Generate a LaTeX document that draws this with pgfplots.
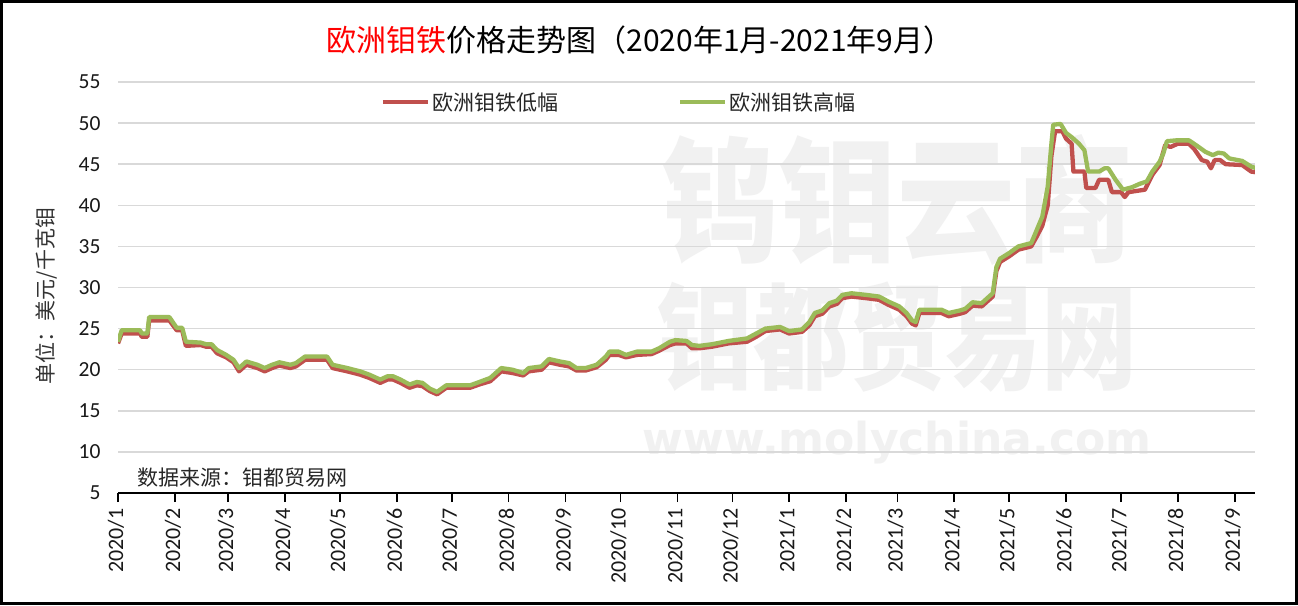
\documentclass[border=0pt]{standalone}
\usepackage{pgfplots}
\pgfplotsset{compat=1.18}
\usepackage{pgfplotstable}
\usepackage{fontspec}
\setmainfont{Carlito}
\newfontfamily\cjk{Noto Sans CJK SC}
\newfontfamily\wmfont{DejaVu Sans}
\definecolor{lowred}{RGB}{192,80,77}
\definecolor{highgreen}{RGB}{155,187,89}
\definecolor{gridgray}{RGB}{217,217,217}
\definecolor{wmgray}{RGB}{241,241,241}

\pgfplotstableread{
d v
0 23.2
2 24.4
12 24.4
13 24.0
16 24.0
17 26.0
28 26.0
32 24.8
35 24.8
37 22.9
45 23.0
48 22.8
51 22.8
54 22.0
59 21.5
63 20.9
66 19.8
70 20.6
76 20.2
80 19.8
84 20.2
88 20.5
94 20.2
97 20.4
102 21.2
114 21.2
117 20.2
125 19.8
132 19.4
137 19.0
143 18.4
147 18.8
150 18.8
154 18.4
159 17.8
163 18.1
166 18.0
170 17.4
174 17.0
179 17.8
192 17.8
197 18.2
203 18.6
206 19.2
209 19.8
215 19.6
221 19.3
224 19.8
231 20.0
235 20.9
241 20.6
246 20.4
250 19.9
255 19.9
261 20.3
266 21.2
268 21.8
273 21.8
277 21.5
283 21.8
291 21.9
295 22.3
301 23.0
304 23.2
310 23.2
313 22.6
317 22.6
324 22.8
333 23.2
343 23.4
348 24.0
353 24.7
361 24.9
366 24.4
373 24.6
377 25.4
380 26.5
384 26.8
388 27.7
392 28.0
395 28.7
400 28.9
408 28.7
415 28.5
420 27.9
426 27.3
430 26.5
433 25.6
435 25.4
437 26.9
449 26.9
453 26.5
459 26.8
462 27.0
466 27.8
471 27.7
477 28.9
479 32.0
481 33.1
486 33.8
491 34.6
498 35.0
501 36.2
504 37.5
507 40.0
509 46.0
511 49.0
515 49.0
517 48.1
520 47.5
521 44.1
527 44.1
528 42.1
533 42.1
535 43.1
540 43.1
542 41.6
547 41.6
549 41.0
551 41.6
560 41.9
564 43.7
568 44.9
571 47.3
574 47.1
578 47.5
584 47.5
587 46.8
591 45.5
594 45.3
596 44.5
598 45.5
601 45.5
604 45.0
613 44.9
618 44.1
621 44.0
}\lowtable

\pgfplotstableread{
d v
0 23.4
2 24.8
12 24.8
13 24.4
16 24.4
17 26.4
28 26.4
32 25.1
35 25.1
37 23.4
45 23.3
48 23.1
51 23.1
54 22.4
59 21.8
63 21.2
66 20.2
70 21.0
76 20.6
80 20.2
84 20.6
88 20.9
94 20.6
97 20.8
102 21.6
114 21.6
117 20.6
125 20.2
132 19.8
137 19.4
143 18.8
147 19.2
150 19.2
154 18.8
159 18.2
163 18.5
166 18.4
170 17.7
174 17.3
179 18.1
192 18.1
197 18.5
203 19.0
206 19.6
209 20.2
215 20.0
221 19.6
224 20.2
231 20.4
235 21.3
241 21.0
246 20.8
250 20.2
255 20.2
261 20.6
266 21.6
268 22.2
273 22.2
277 21.8
283 22.2
291 22.2
295 22.6
301 23.4
304 23.6
310 23.5
313 23.0
317 22.9
324 23.1
333 23.5
343 23.8
348 24.4
353 25.0
361 25.2
366 24.7
373 24.9
377 25.8
380 26.9
384 27.2
388 28.1
392 28.4
395 29.1
400 29.3
408 29.1
415 28.9
420 28.3
426 27.7
430 26.9
433 26.0
435 25.8
437 27.3
449 27.3
453 26.9
459 27.2
462 27.4
466 28.2
471 28.1
477 29.3
479 32.5
481 33.5
486 34.2
491 35.0
498 35.4
501 37.0
504 38.6
507 42.3
509 47.5
510 49.8
514 49.9
517 48.8
520 48.3
524 47.5
527 46.7
529 44.1
535 44.1
538 44.5
540 44.5
544 43.1
548 41.9
553 42.2
557 42.6
561 42.9
564 44.1
568 45.3
570 46.3
572 47.8
577 47.9
584 47.9
588 47.3
593 46.5
597 46.1
600 46.4
603 46.3
606 45.7
613 45.4
618 44.7
621 44.5
}\hightable

\begin{document}
\begin{tikzpicture}[x=1pt,y=1pt]
\useasboundingbox (0,0) rectangle (1298,605);
\fill[white] (0,0) rectangle (1298,605);
% faint watermark
\node[text=wmgray, font=\cjk\bfseries\fontsize{118}{118}\selectfont, yscale=1.15, inner sep=0pt] at (897,405) {钨钼云商};
\node[text=wmgray, font=\cjk\bfseries\fontsize{96}{96}\selectfont, yscale=1.2, inner sep=0pt] at (897,268) {钼都贸易网};
\node[text=wmgray, font=\wmfont\bfseries\fontsize{44}{44}\selectfont, inner sep=0pt] at (897,162) {www.molychina.com};
\begin{axis}[
  at={(118pt,112pt)}, anchor=south west,
  scale only axis, width=1137pt, height=411pt,
  xmin=0, xmax=620, ymin=5, ymax=55,
  ytick={5,10,...,55},
  xtick={0,31,60,91,121,152,182,213,244,274,305,335,366,397,425,456,486,517,547,578,609},
  xticklabels={2020/1,2020/2,2020/3,2020/4,2020/5,2020/6,2020/7,2020/8,2020/9,2020/10,2020/11,2020/12,2021/1,2021/2,2021/3,2021/4,2021/5,2021/6,2021/7,2021/8,2021/9},
  axis x line=bottom, axis y line=left,
  x axis line style={-, line width=1.6pt, black},
  y axis line style={draw=none},
  ymajorgrids, grid style={line width=1.5pt, gridgray},
  tick align=outside, major tick length=9pt,
  xtick style={line width=1.6pt, black},
  ytick style={draw=none},
  /pgf/number format/assume math mode=true,
  yticklabel style={font=\fontsize{21.5}{21.5}\selectfont, text=black!90, xshift=-5pt},
  xticklabel style={rotate=90, anchor=east, font=\fontsize{22}{22}\selectfont, text=black!90, yshift=2pt},
  xticklabel shift=3pt,
  legend style={at={(0.231,0.951)}, anchor=west, draw=none, fill=none,
    font=\cjk\fontsize{21}{21}\selectfont, text=black!85, inner sep=0pt,
    legend columns=2, /tikz/every even column/.append style={column sep=118pt}},
  legend image code/.code={\draw[#1] (0pt,0pt) -- (45pt,0pt);},
  clip=true,
]
\addplot[lowred, line width=4.3pt, line join=round] table[x=d, y=v] {\lowtable};
\addlegendentry{欧洲钼铁低幅}
\addplot[highgreen, line width=4.3pt, line join=round] table[x=d, y=v] {\hightable};
\addlegendentry{欧洲钼铁高幅}
\end{axis}
\node[font=\cjk\fontsize{30}{30}\selectfont] at (640,565) {\textcolor{red}{欧洲钼铁}价格走势图（2020年1月-2021年9月）};
\node[rotate=90, font=\cjk\fontsize{21}{21}\selectfont, text=black!80] at (46,309) {单位：美元/千克钼};
\node[anchor=west, inner sep=0pt, font=\cjk\fontsize{21}{21}\selectfont, text=black!85] at (137,127) {数据来源：钼都贸易网};
\draw[line width=3pt] (1.5,1.5) rectangle (1296.5,603.5);
\end{tikzpicture}
\end{document}
